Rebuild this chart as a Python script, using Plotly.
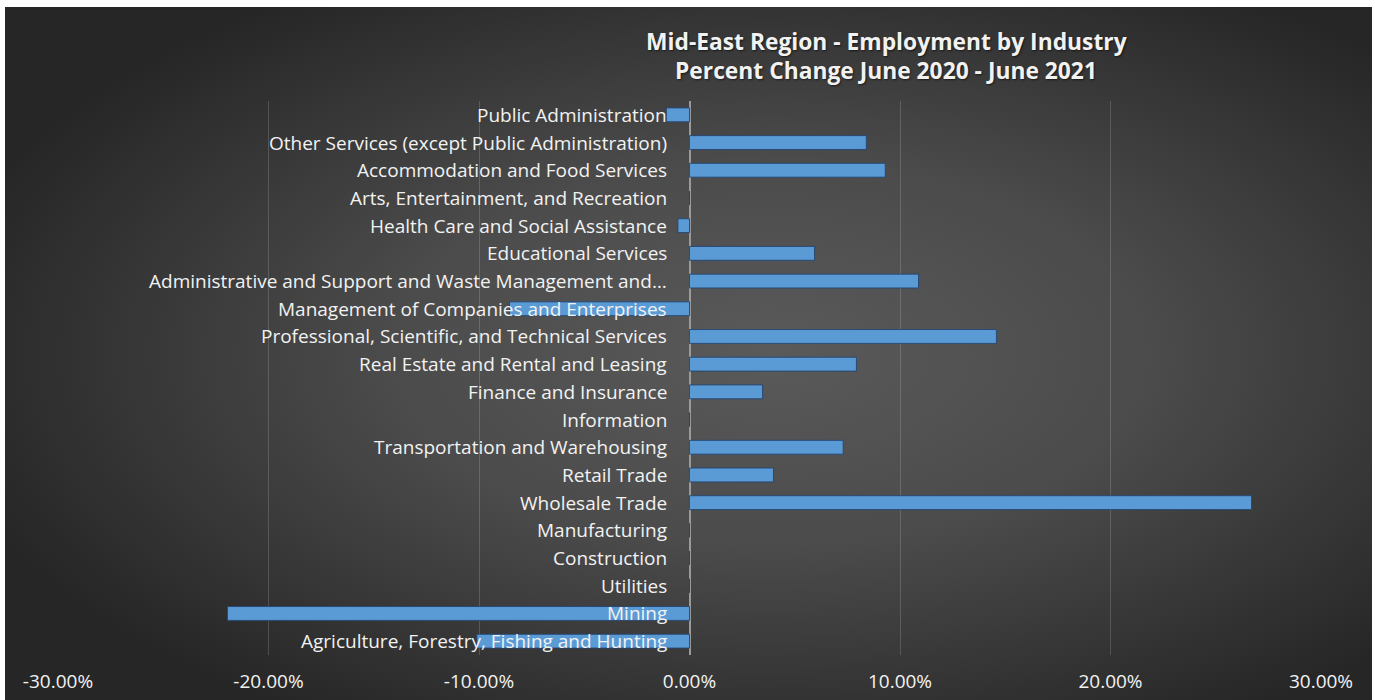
import base64
import plotly.graph_objects as go

categories = [
    "Agriculture, Forestry, Fishing and Hunting",
    "Mining",
    "Utilities",
    "Construction",
    "Manufacturing",
    "Wholesale Trade",
    "Retail Trade",
    "Transportation and Warehousing",
    "Information",
    "Finance and Insurance",
    "Real Estate and Rental and Leasing",
    "Professional, Scientific, and Technical Services",
    "Management of Companies and Enterprises",
    "Administrative and Support and Waste Management and…",
    "Educational Services",
    "Health Care and Social Assistance",
    "Arts, Entertainment, and Recreation",
    "Accommodation and Food Services",
    "Other Services (except Public Administration)",
    "Public Administration",
]
pct_change = [
    -10.1, -21.95, 0.0, 0.0, 0.0, 26.7, 3.99, 7.3, 0.0, 3.47,
    7.93, 14.58, -8.55, 10.88, 5.94, -0.55, 0.0, 9.3, 8.4, -1.1,
]
tick_vals = [-30, -20, -10, 0, 10, 20, 30]
tick_text = ["-30.00%", "-20.00%", "-10.00%", "0.00%", "10.00%", "20.00%", "30.00%"]
title_lines = ["Mid-East Region - Employment by Industry", "Percent Change June 2020 - June 2021"]

W, H = 1375, 700
ml, mr, mt, mb = 58, 54, 101, 45
pw, ph = W - ml - mr, H - mt - mb

# radial gradient background as svg
svg = (
    '<svg xmlns="http://www.w3.org/2000/svg" width="1367" height="693" viewBox="0 0 1367 693" preserveAspectRatio="none">'
    '<defs><radialGradient id="g" cx="0.56" cy="0.5" r="0.62" gradientUnits="objectBoundingBox">'
    '<stop offset="0" stop-color="#5a5a5a"/><stop offset="0.45" stop-color="#4b4b4b"/>'
    '<stop offset="1" stop-color="#262626"/></radialGradient></defs>'
    '<rect x="0" y="0" width="1367" height="693" fill="url(#g)"/></svg>'
)
src = "data:image/svg+xml;base64," + base64.b64encode(svg.encode()).decode()

def px_to_paper_x(px):
    return (px - ml) / pw

def px_to_paper_y(py):
    return (H - mb - py) / ph

font_family = "'Open Sans', 'Noto Sans', sans-serif"
txt_col = "#f2f2f2"

fig = go.Figure()
fig.add_trace(go.Bar(
    x=pct_change,
    y=categories,
    orientation="h",
    marker=dict(color="#5b9bd5", line=dict(color="rgba(35,70,115,0.9)", width=1)),
    hoverinfo="x+y",
))

annotations = []
for c in categories:
    annotations.append(dict(
        x=0, y=c, xref="x", yref="y", text=c, showarrow=False,
        xanchor="right", yanchor="middle", xshift=-21,
        font=dict(family=font_family, size=19, color=txt_col),
    ))

for line, py in zip(title_lines, [41, 71]):
    annotations.append(dict(
        x=px_to_paper_x(886), y=px_to_paper_y(py), xref="paper", yref="paper",
        text="<b>" + line + "</b>", showarrow=False,
        xanchor="center", yanchor="middle",
        font=dict(family=font_family, size=22.8, color=txt_col,
                  shadow="1px 1px 2px rgba(0,0,0,0.6)"),
    ))

fig.update_layout(
    template="none",
    width=W, height=H,
    autosize=False,
    margin=dict(l=ml, r=mr, t=mt, b=mb, pad=0, autoexpand=False),
    paper_bgcolor="white",
    plot_bgcolor="rgba(0,0,0,0)",
    bargap=0.5,
    showlegend=False,
    xaxis=dict(
        range=[-30, 30],
        tickvals=tick_vals, ticktext=tick_text,
        showgrid=True, gridcolor="rgba(255,255,255,0.16)", gridwidth=1,
        zeroline=True, zerolinecolor="#9a9a9a", zerolinewidth=1.5,
        showline=False, ticks="", ticklabelstandoff=13,
        tickfont=dict(family=font_family, size=19, color=txt_col),
        automargin=False, fixedrange=True,
    ),
    yaxis=dict(
        showticklabels=False, showgrid=False, zeroline=False, showline=False,
        range=[-0.5, len(categories) - 0.5], automargin=False, fixedrange=True,
    ),
    annotations=annotations,
    images=[dict(
        source=src, xref="paper", yref="paper",
        x=px_to_paper_x(5), y=px_to_paper_y(7),
        sizex=px_to_paper_x(1372) - px_to_paper_x(5),
        sizey=px_to_paper_y(7) - px_to_paper_y(700),
        xanchor="left", yanchor="top", sizing="stretch", layer="below",
    )],
)

fig.write_html(
    "out.html",
    config={"displayModeBar": False},
    post_script="document.body.style.margin='0';document.body.style.overflow='hidden';",
)
